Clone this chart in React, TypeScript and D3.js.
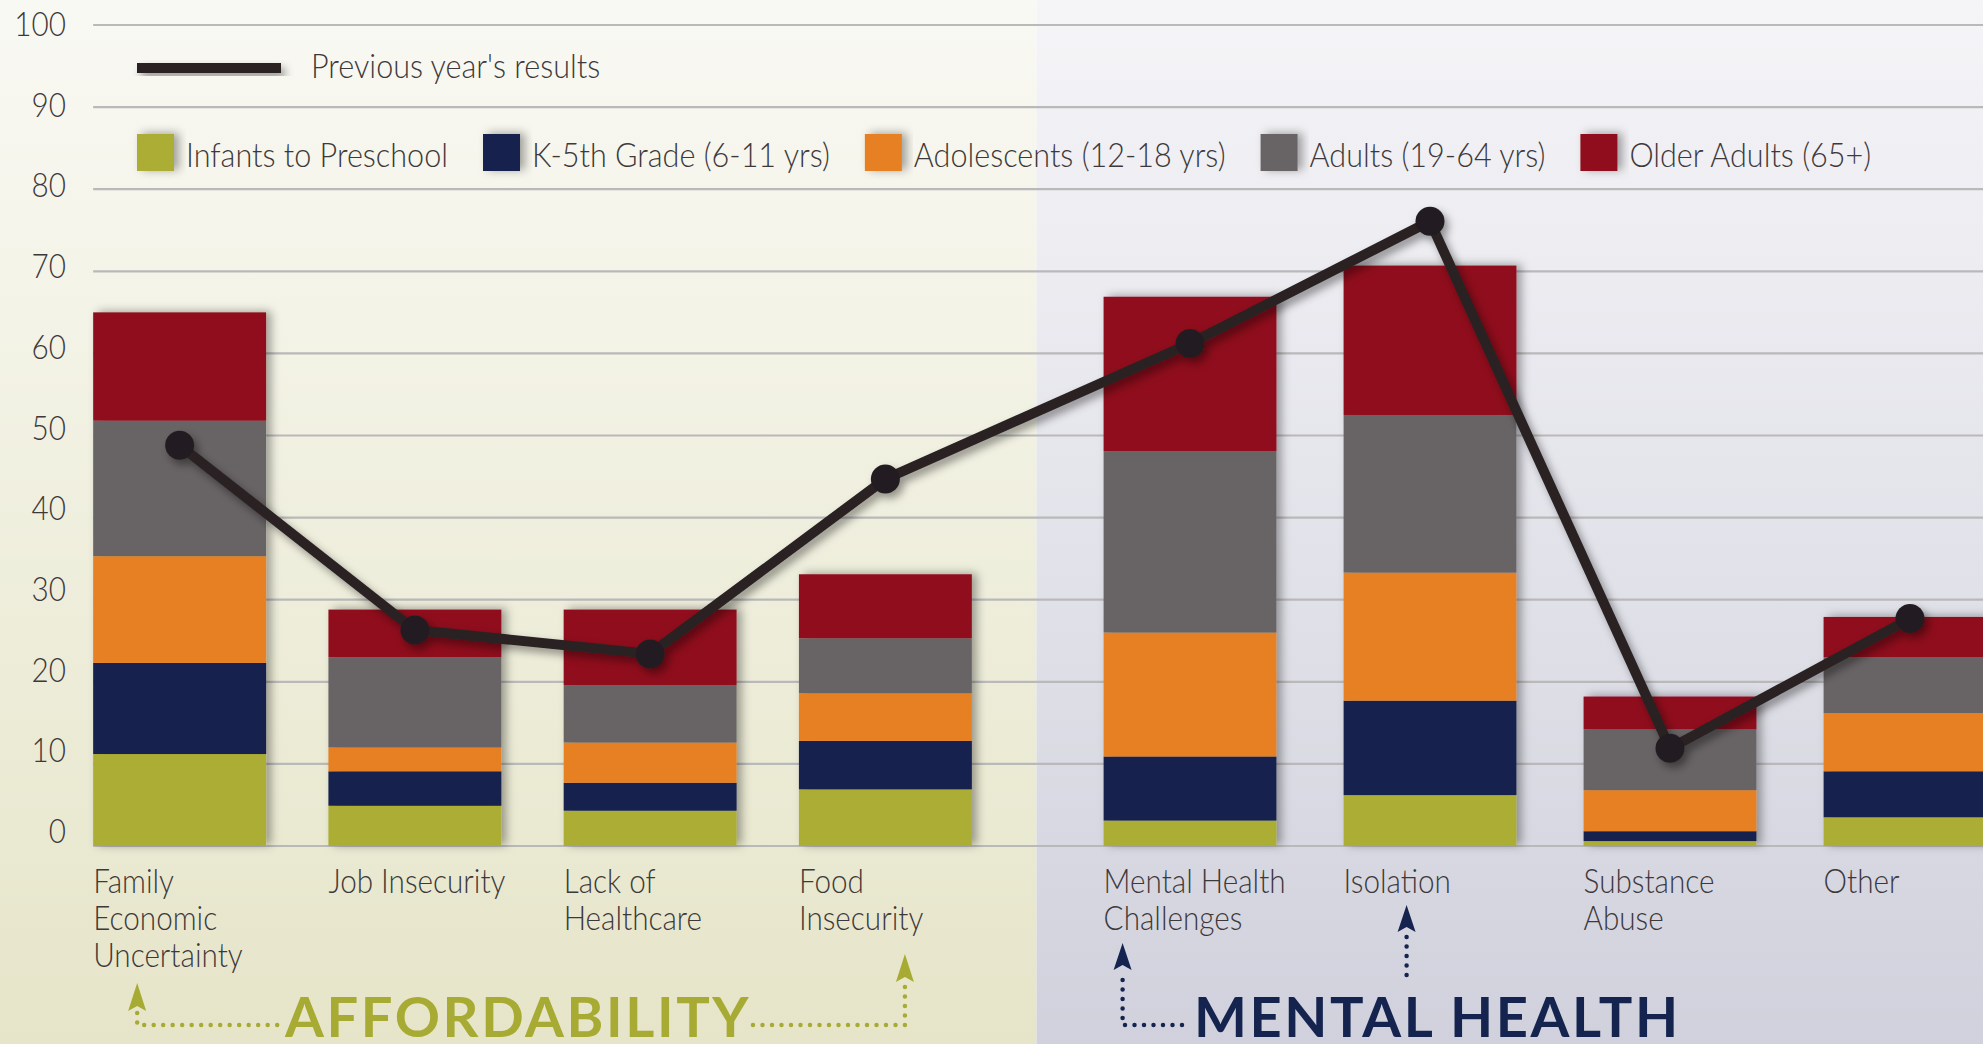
import { useEffect, useRef } from 'react';
import * as d3 from 'd3';

const affordability = ['Family\nEconomic\nUncertainty', 'Job Insecurity', 'Lack of\nHealthcare', 'Food\nInsecurity'];
const mentalHealth = ['Mental Health\nChallenges', 'Isolation', 'Substance\nAbuse', 'Other'];
const categories = [...affordability, ...mentalHealth];

const seriesNames = [
  'Infants to Preschool',
  'K-5th Grade (6-11 yrs)',
  'Adolescents (12-18 yrs)',
  'Adults (19-64 yrs)',
  'Older Adults (65+)',
];
const seriesColors = ['#abad35', '#13224d', '#e68022', '#686465', '#8f101f'];

const infants = [11.2, 4.9, 4.3, 6.9, 3.1, 6.2, 0.6, 3.5];
const k5 = [11.1, 4.2, 3.4, 5.9, 7.8, 11.5, 1.2, 5.6];
const adolescents = [13.0, 2.9, 4.9, 5.8, 15.1, 15.6, 5.0, 7.1];
const adults = [16.5, 11.0, 7.0, 6.7, 22.1, 19.2, 7.4, 6.8];
const olderAdults = [13.2, 5.8, 9.2, 7.8, 18.8, 18.2, 4.0, 4.9];
const previousYear = [48.8, 26.3, 23.4, 44.7, 61.2, 76.1, 11.9, 27.7];

const yTicks = [0, 10, 20, 30, 40, 50, 60, 70, 80, 90, 100];

export default function App() {
  const ref = useRef<SVGSVGElement>(null);

  useEffect(() => {
    const svg = d3.select(ref.current);
    svg.selectAll('*').remove();

    const width = 1983;
    const height = 1044;
    svg.attr('width', width).attr('height', height);

    const font = 'Lato, "Noto Sans", sans-serif';
    const textColor = '#3d393a';
    const lineColor = '#2a2223';
    const squeeze = 0.9; // the original face is narrower than Lato

    const defs = svg.append('defs');
    const gradient = (id: string, top: string, bottom: string) => {
      const g = defs.append('linearGradient').attr('id', id).attr('x1', 0).attr('y1', 0).attr('x2', 0).attr('y2', 1);
      g.append('stop').attr('offset', '0%').attr('stop-color', top);
      g.append('stop').attr('offset', '100%').attr('stop-color', bottom);
    };
    gradient('bgLeft', '#f9f9f4', '#e6e5c9');
    gradient('bgRight', '#f5f5f8', '#d1d1dd');

    const shadow = (id: string, dx: number, dy: number, sd: number, op: number) => {
      const f = defs.append('filter').attr('id', id)
        .attr('x', '-30%').attr('y', '-30%').attr('width', '160%').attr('height', '160%');
      f.append('feDropShadow')
        .attr('dx', dx).attr('dy', dy).attr('stdDeviation', sd)
        .attr('flood-color', '#000').attr('flood-opacity', op);
    };
    shadow('barShadow', 5, -1, 5, 0.35);
    shadow('lineShadow', 4, 5, 4, 0.4);

    const label = (parent: any, x: number, y: number, str: string, size: number) =>
      parent.append('text')
        .attr('transform', `translate(${x},${y}) scale(${squeeze},1)`)
        .attr('fill', textColor)
        .style('font-family', font)
        .style('font-weight', 300)
        .style('font-size', `${size}px`)
        .text(str);

    // scales
    const y = d3.scaleLinear().domain([0, 100]).range([846, 25]);
    const xLeft = d3.scaleBand<string>().domain(affordability).range([62, 1003])
      .paddingInner(0.265).paddingOuter(0.1325);
    const xRight = d3.scaleBand<string>().domain(mentalHealth).range([1070, 2030])
      .paddingInner(0.28).paddingOuter(0.14);
    const scaleFor = (c: string) => (affordability.includes(c) ? xLeft : xRight);
    const bandX = (c: string) => scaleFor(c)(c) as number;
    const bandW = (c: string) => scaleFor(c).bandwidth();
    const split = (xLeft.range()[1] + xRight.range()[0]) / 2;

    // backgrounds
    svg.append('rect').attr('x', 0).attr('y', 0).attr('width', split).attr('height', height).attr('fill', 'url(#bgLeft)');
    svg.append('rect').attr('x', split).attr('y', 0).attr('width', width - split).attr('height', height).attr('fill', 'url(#bgRight)');

    // gridlines
    const gridX0 = bandX(categories[0]);
    svg.append('g').selectAll('line').data(yTicks).join('line')
      .attr('x1', gridX0).attr('x2', width)
      .attr('y1', (d) => y(d)).attr('y2', (d) => y(d))
      .attr('stroke', '#bab9b9').attr('stroke-width', 2.2);

    // y axis labels (evenly spaced a touch tighter than the grid in the original)
    const yAxis = svg.append('g')
      .attr('transform', 'translate(66,0)')
      .call(d3.axisLeft(y).tickValues(yTicks).tickSize(0).tickPadding(0));
    yAxis.select('.domain').remove();
    yAxis.selectAll<SVGTextElement, number>('text')
      .attr('y', (d) => -14 + d * 0.14)
      .attr('transform', `scale(${squeeze},1)`)
      .attr('fill', textColor)
      .style('font-family', font)
      .style('font-weight', 300)
      .style('font-size', '33px');

    // stacked bars
    const table = categories.map((c, i) => ({
      category: c,
      [seriesNames[0]]: infants[i],
      [seriesNames[1]]: k5[i],
      [seriesNames[2]]: adolescents[i],
      [seriesNames[3]]: adults[i],
      [seriesNames[4]]: olderAdults[i],
    }));
    const stacked = d3.stack<any>().keys(seriesNames)(table);

    const bars = svg.append('g').selectAll('g').data(categories).join('g')
      .attr('filter', 'url(#barShadow)');
    bars.each(function (c, i) {
      const g = d3.select(this);
      stacked.forEach((layer, k) => {
        const [v0, v1] = layer[i];
        g.append('rect')
          .attr('x', bandX(c))
          .attr('width', bandW(c))
          .attr('y', y(v1))
          .attr('height', y(v0) - y(v1))
          .attr('fill', seriesColors[k]);
      });
    });

    // previous year line
    const cx = (i: number) => bandX(categories[i]) + bandW(categories[i]) / 2;
    const lineG = svg.append('g').attr('filter', 'url(#lineShadow)');
    lineG.append('path')
      .datum(previousYear)
      .attr('fill', 'none')
      .attr('stroke', lineColor)
      .attr('stroke-width', 10)
      .attr('stroke-linejoin', 'round')
      .attr('d', d3.line<number>().x((_, i) => cx(i)).y((d) => y(d)));
    lineG.selectAll('circle').data(previousYear).join('circle')
      .attr('cx', (_, i) => cx(i))
      .attr('cy', (d) => y(d))
      .attr('r', 14.5)
      .attr('fill', '#231f20');

    // category labels
    categories.forEach((c) => {
      c.split('\n').forEach((line, j) => {
        label(svg, bandX(c), 893 + j * 37, line, 33);
      });
    });

    // legend
    const legend = svg.append('g');
    legend.append('rect')
      .attr('x', 137).attr('y', 63).attr('width', 144).attr('height', 10)
      .attr('fill', lineColor)
      .attr('filter', 'url(#lineShadow)');
    label(legend, 311, 78, "Previous year's results", 34);

    let lx = 137;
    seriesNames.forEach((name, k) => {
      legend.append('rect')
        .attr('x', lx).attr('y', 134).attr('width', 37).attr('height', 37)
        .attr('fill', seriesColors[k])
        .attr('filter', 'url(#barShadow)');
      const t = label(legend, lx + 49, 167, name, 34);
      const w = (t.node() as SVGTextElement).getComputedTextLength() * squeeze;
      lx = lx + 49 + w + 35;
    });

    // group titles and dotted arrows
    const groups = [
      { title: 'AFFORDABILITY', color: '#a8ab33', x: 285 },
      { title: 'MENTAL HEALTH', color: '#15244f', x: 1194 },
    ];
    groups.forEach((g) => {
      svg.append('text')
        .attr('x', g.x).attr('y', 1037)
        .attr('fill', g.color)
        .style('font-family', font).style('font-weight', 700).style('font-size', '56px')
        .style('letter-spacing', '2.6px')
        .text(g.title);
    });

    const dotted = (d: string, color: string) =>
      svg.append('path').attr('d', d).attr('fill', 'none')
        .attr('stroke', color).attr('stroke-width', 4.5)
        .attr('stroke-linecap', 'round').attr('stroke-dasharray', '0 9.5');
    const arrowHead = (x: number, tip: number, base: number, color: string) =>
      svg.append('path')
        .attr('d', `M${x},${tip} L${x + 9},${base} L${x},${base - 5} L${x - 9},${base} Z`)
        .attr('fill', color);

    const olive = groups[0].color;
    const navy = groups[1].color;
    const ax1 = bandX(affordability[0]) + 44;
    const ax2 = bandX(affordability[3]) + 106;
    dotted(`M${ax1},1013 V1025 H${groups[0].x - 6}`, olive);
    arrowHead(ax1, 983, 1011, olive);
    dotted(`M${groups[0].x + 468},1025 H${ax2} V984`, olive);
    arrowHead(ax2, 954, 982, olive);

    const mx1 = bandX(mentalHealth[0]) + 19;
    const mx2 = bandX(mentalHealth[1]) + 63;
    dotted(`M${groups[1].x - 12},1025 H${mx1} V972`, navy);
    arrowHead(mx1, 943, 970, navy);
    dotted(`M${mx2},975 V935`, navy);
    arrowHead(mx2, 905, 932, navy);
  }, []);

  return (
    <svg
      ref={ref}
      style={{ position: 'absolute', left: 0, top: 0, display: 'block' }}
    ></svg>
  );
}
